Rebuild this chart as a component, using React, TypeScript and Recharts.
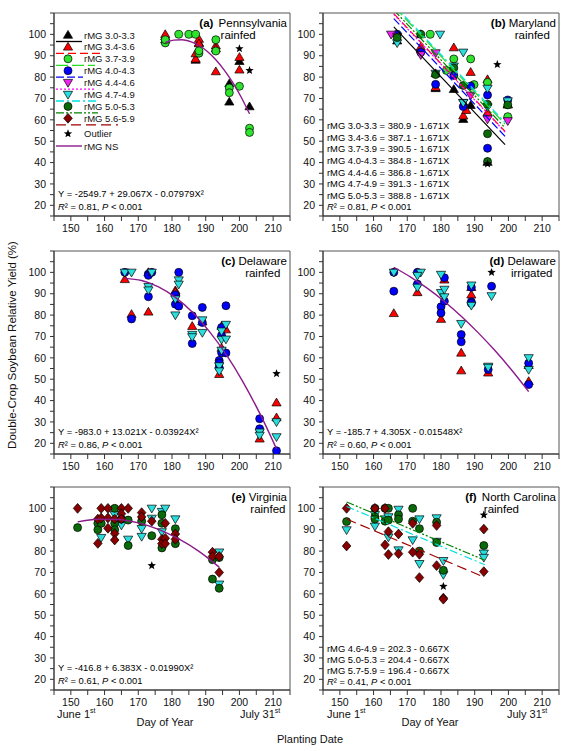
import React from 'react'
import { ScatterChart, Scatter, XAxis, YAxis, ReferenceArea } from 'recharts'

type Pt = [number, number]

// (a) Pennsylvania rainfed
const paMg30: Pt[] = [[178, 99], [178, 97.5], [187, 88], [188, 96], [197, 77], [197, 68.4], [200, 87.4], [203, 66.2]]
const paMg34: Pt[] = [[178, 100], [187, 88.5], [187, 91], [188, 97.8], [188, 95.7], [193, 94.7], [193, 93.3], [193, 82.6], [200, 89.3], [200, 83.4]]
const paMg37: Pt[] = [[178, 96], [178, 97.5], [182, 100], [185, 100], [187, 100], [188, 91.2], [188, 92.3], [193, 97.5], [193, 92.2], [197, 74.9], [197, 72.7], [200, 75.7], [203, 56.1], [203, 54.1]]
const paOutlier: Pt[] = [[200, 93.3], [203, 83.1]]
const paFit: Pt[] = [[178, 96.2], [180.5, 97.3], [183, 97.5], [185.5, 96.6], [188, 94.8], [190.5, 92.0], [193, 88.1], [195.5, 83.3], [198, 77.5], [200.5, 70.7], [203, 62.8]]

// (b) Maryland rainfed
const mdMg30: Pt[] = [[167, 97], [174, 100], [178.4, 74.7], [183.8, 74.3], [186.6, 60.3], [188.8, 66.8], [193.8, 40.2], [199.8, 67.3]]
const mdMg34: Pt[] = [[174, 94.1], [178.4, 81.7], [178.4, 75.2], [183.8, 93.8], [186.6, 61.9], [187.5, 64.5], [188.8, 82.3], [193.8, 78.9], [193.8, 63.4], [199.8, 67]]
const mdMg37: Pt[] = [[176.8, 100], [181.6, 83.1], [183.8, 88.5], [188.8, 88.5], [189.8, 76.5], [193.8, 77.5], [199.8, 61.5]]
const mdMg40: Pt[] = [[167, 100], [174, 91.6], [178.4, 76.6], [183.8, 80.8], [186.6, 66.2], [188.8, 75.8], [193.8, 71.6], [193.8, 46.7], [199.8, 69.3]]
const mdMg44: Pt[] = [[165.2, 100], [167, 99], [174, 90.4], [178.4, 91.3], [186.6, 68.1], [188.8, 71.5], [193.8, 60.3], [199.8, 59.5]]
const mdMg47: Pt[] = [[167, 96], [179.7, 100], [178.4, 81.7], [183.8, 85.1], [186.6, 91.6], [186.6, 68], [193.8, 74.7], [193.8, 66], [199.8, 68.8]]
const mdMg50: Pt[] = [[167, 98.5], [174, 100], [178.4, 81.2], [183.8, 84.3], [186.6, 76.1], [193.8, 67.3], [193.8, 53.5], [193.8, 40.5], [199.8, 67]]
const mdOutlier: Pt[] = [[196.7, 85.9], [193.8, 39.4]]
const mdFit30: Pt[] = [[166, 103.5], [199, 48.4]]
const mdFit34: Pt[] = [[166, 109.7], [199, 54.6]]
const mdFit37: Pt[] = [[166, 113.1], [199, 58.0]]
const mdFit40: Pt[] = [[166, 107.4], [199, 52.3]]
const mdFit44: Pt[] = [[166, 109.4], [199, 54.3]]
const mdFit47: Pt[] = [[166, 113.9], [199, 58.8]]
const mdFit50: Pt[] = [[166, 111.4], [199, 56.3]]

// (c) Delaware rainfed
const deMg34: Pt[] = [[166, 96.7], [168, 80.4], [173, 100], [173, 81.5], [181, 91.5], [181, 90.8], [186, 74.8], [189, 76.9], [194.7, 74.8], [194.7, 64.6], [196, 73.2], [194, 52.3], [206, 22.1], [211, 39], [211, 32]]
const deMg40: Pt[] = [[166, 100], [168, 78.2], [173, 99.2], [173, 98.6], [173, 88.6], [174, 100], [181, 89.5], [181, 85.1], [182, 100], [182, 84.2], [186, 79.7], [186, 66.7], [189, 83.6], [189, 76.5], [194.7, 74.2], [194.7, 70.5], [194.7, 62.4], [196, 84.4], [196, 62.3], [194, 58.8], [194, 57.6], [194, 55.5], [206, 31.5], [206, 26.8], [211, 16.5]]
const deMg47: Pt[] = [[166, 100], [168, 100], [173, 93.3], [173, 91.7], [174, 100], [181, 87.5], [181, 80], [182, 96.4], [182, 94.4], [186, 70.9], [186, 69.8], [189, 77.7], [189, 71.8], [194.7, 72.5], [194.7, 68.6], [194.7, 63.5], [196, 75.6], [196, 68.7], [194, 56.2], [194, 53.8], [206, 25.2], [206, 23.7], [211, 30], [211, 23]]
const deOutlier: Pt[] = [[211, 52.6]]
const deFit: Pt[] = [[166, 97.2], [171, 96.2], [176, 93.2], [181, 88.3], [186, 81.4], [191, 72.5], [196, 61.7], [201, 48.9], [206, 34.1], [211, 17.4]]

// (d) Delaware irrigated
const diMg34: Pt[] = [[166, 80.8], [173, 90.6], [180, 78.1], [181, 96.5], [186, 62.3], [186, 54], [189, 89.5], [189, 93], [194, 53], [206, 56.5], [206, 49]]
const diMg40: Pt[] = [[166, 100], [166, 91.2], [173, 100], [173, 94.5], [180, 83.9], [180, 81], [181, 97.5], [181, 86.5], [186, 70.9], [186, 67.5], [189, 93], [189, 86.2], [189, 85.5], [195, 93.5], [194, 54.5], [206, 57.5], [206, 47.5]]
const diMg47: Pt[] = [[166, 100], [174, 100], [173, 98.5], [173, 93], [180, 99], [180, 90.5], [181, 92], [181, 88.5], [186, 76], [189, 94], [189, 84.5], [195, 89], [194, 56], [194, 55.5], [206, 60], [206, 54.5]]
const diOutlier: Pt[] = [[195, 100]]
const diFit: Pt[] = [[166, 102.4], [171, 97.8], [176, 92.5], [181, 86.4], [186, 79.5], [191, 71.8], [196, 63.4], [201, 54.2], [206, 44.2]]

// (e) Virginia rainfed
const vaMg47: Pt[] = [[159, 86.3], [163, 97], [165, 92.1], [167, 85.5], [171, 90.5], [171, 86.8], [174, 100], [174, 95.3], [177, 98.5], [177, 89], [178, 100], [181, 95], [194, 79.5], [194, 64.5]]
const vaMg50: Pt[] = [[152, 91], [158, 93], [158, 90], [159, 93], [163, 100], [163, 93], [163, 90], [165, 95], [167, 94.5], [167, 82.6], [171, 94], [174, 87.2], [177, 97], [177, 93], [177, 81.5], [181, 90.5], [181, 83.5], [192, 76], [192, 66.9], [194, 77], [194, 62.6]]
const vaMg56: Pt[] = [[152, 100], [158, 95], [158, 83.6], [159, 95.5], [159, 100], [161, 100], [161, 95.5], [161, 90.7], [163, 95], [163, 88.2], [163, 85.2], [165, 100], [165, 97.5], [165, 95], [167, 100], [171, 98], [171, 96], [174, 94], [177, 85.5], [177, 83.5], [178, 93], [178, 86], [178, 83.5], [181, 88], [181, 85.5], [192, 79.5], [192, 77.5], [194, 77.5], [194, 70]]
const vaOutlier: Pt[] = [[174, 73.2]]
const vaFit: Pt[] = [[152, 93.7], [158, 94.9], [164, 94.8], [170, 93.2], [176, 90.2], [182, 85.7], [188, 79.9], [194, 72.5]]

// (f) North Carolina rainfed
const ncMg47: Pt[] = [[152, 89.9], [160.4, 97], [160.4, 91.6], [163.4, 95], [164.4, 96], [164.4, 86.5], [167.4, 99.5], [167.4, 80.5], [171.6, 85.2], [173.6, 95], [173.6, 74.1], [178.7, 95.5], [178.7, 84.5], [180.7, 75.5], [180.7, 69], [192.7, 79], [192.7, 77]]
const ncMg50: Pt[] = [[152, 93.8], [160.4, 100], [160.4, 96], [160.4, 95], [163.4, 100], [163.4, 94], [164.4, 100], [164.4, 94.5], [167.4, 97], [167.4, 95], [171.6, 100], [171.6, 94], [173.6, 90.5], [173.6, 80], [178.7, 93.5], [178.7, 84], [180.7, 71], [192.7, 82.6]]
const ncMg56: Pt[] = [[152, 100], [152, 82.4], [160.4, 100], [163.4, 100], [163.4, 82.9], [164.4, 89.1], [164.4, 78.4], [167.4, 88], [167.4, 78.8], [171.6, 93], [171.6, 79.5], [173.6, 78.5], [173.6, 67.6], [178.7, 92], [178.7, 73.2], [180.7, 58], [180.7, 57.5], [192.7, 90.3], [192.7, 70.4]]
const ncOutlier: Pt[] = [[180.7, 63.5], [192.7, 96.9]]
const ncFit47: Pt[] = [[152, 100.9], [193, 73.6]]
const ncFit50: Pt[] = [[152, 103.0], [193, 75.7]]
const ncFit56: Pt[] = [[152, 95.0], [193, 67.7]]

const X_TICKS = [145, 150, 155, 160, 165, 170, 175, 180, 185, 190, 195, 200, 205, 210, 215]
const Y_TICKS = [15, 20, 25, 30, 35, 40, 45, 50, 55, 60, 65, 70, 75, 80, 85, 90, 95, 100, 105, 110]

const FONT = '"Liberation Sans", Arial, sans-serif'

// marker + line styles per maturity group
const GROUPS: Record<string, { shape: string; fill: string; stroke: string; dash: string }> = {
  mg30: { shape: 'up', fill: '#000000', stroke: '#000000', dash: '' },
  mg34: { shape: 'up', fill: '#ff0000', stroke: '#ff0000', dash: '8 4' },
  mg37: { shape: 'circle', fill: '#2ee22e', stroke: '#22dd22', dash: '12 4' },
  mg40: { shape: 'circle', fill: '#0000ff', stroke: '#0000ff', dash: '8 3' },
  mg44: { shape: 'down', fill: '#ee22ee', stroke: '#ff00ff', dash: '2 2' },
  mg47: { shape: 'down', fill: '#2adede', stroke: '#00e0e0', dash: '8 3 2 3' },
  mg50: { shape: 'circle', fill: '#0a6a0a', stroke: '#008000', dash: '8 2 2 2 2 2' },
  mg56: { shape: 'diamond', fill: '#880000', stroke: '#a00000', dash: '10 5' },
  out: { shape: 'star', fill: '#000000', stroke: '#000000', dash: '' },
}
const FIT_COLOR = '#8b1a8b'

function drawMark(kind: string, cx: number, cy: number) {
  const g = GROUPS[kind]
  const sw = 0.7
  if (g.shape === 'circle') return <circle cx={cx} cy={cy} r={4} fill={g.fill} stroke="#000" strokeWidth={sw} />
  if (g.shape === 'up')
    return <polygon points={`${cx},${cy - 4.6} ${cx + 4.6},${cy + 3.2} ${cx - 4.6},${cy + 3.2}`} fill={g.fill} stroke="#000" strokeWidth={sw} />
  if (g.shape === 'down')
    return <polygon points={`${cx - 4.6},${cy - 3.2} ${cx + 4.6},${cy - 3.2} ${cx},${cy + 4.6}`} fill={g.fill} stroke="#000" strokeWidth={sw} />
  if (g.shape === 'diamond')
    return <polygon points={`${cx},${cy - 4.9} ${cx + 4.3},${cy} ${cx},${cy + 4.9} ${cx - 4.3},${cy}`} fill={g.fill} stroke="#000" strokeWidth={sw} />
  const p: string[] = []
  for (let i = 0; i < 10; i++) {
    const r = i % 2 === 0 ? 4.4 : 1.9
    const a = -Math.PI / 2 + (i * Math.PI) / 5
    p.push(`${cx + r * Math.cos(a)},${cy + r * Math.sin(a)}`)
  }
  return <polygon points={p.join(' ')} fill="#000" />
}

const toXY = (pts: Pt[]) => pts.map(([x, y]) => ({ x, y }))

type Fit = { pts: Pt[]; stroke: string; dash: string; curve?: boolean }
type PanelProps = {
  col: 'L' | 'R'
  row: number
  tag: string
  place: string
  sub: string
  subAlign: 'left' | 'center'
  series: { kind: string; pts: Pt[] }[]
  fits: Fit[]
  notes: React.ReactNode[]
  noteLh: number
}

const COLS = { L: { left: 0, yw: 54 }, R: { left: 293, yw: 30 } }
const ROW_TOPS = [13, 251, 487]
const PW = 236
const PH = 203

const R2 = (r: string) => (
  <>
    <i>R</i>² = {r}, <i>P</i> &lt; 0.001
  </>
)

function Panel({ col, row, tag, place, sub, subAlign, series, fits, notes, noteLh }: PanelProps) {
  const c = COLS[col]
  const top = ROW_TOPS[row]
  const plotLeft = c.left + c.yw
  const plotRight = plotLeft + PW
  const plotBottom = top + PH
  const tickStyle = { fontSize: 10.5, fill: '#111', fontFamily: FONT }
  return (
    <>
      <div style={{ position: 'absolute', left: c.left, top: top - 5 }}>
        <ScatterChart width={c.yw + PW + 6} height={5 + PH + 24} margin={{ top: 5, right: 6, bottom: 0, left: 0 }}>
          <XAxis
            type="number"
            dataKey="x"
            domain={[145, 215]}
            ticks={X_TICKS}
            allowDataOverflow
            interval={0}
            height={24}
            tickSize={5}
            tickMargin={4}
            tick={tickStyle}
            tickFormatter={(v: number) => (v % 10 === 0 ? String(v) : '')}
            axisLine={{ stroke: '#333' }}
            tickLine={{ stroke: '#333' }}
          />
          <YAxis
            type="number"
            dataKey="y"
            domain={[15, 110]}
            ticks={Y_TICKS}
            allowDataOverflow
            interval={0}
            width={c.yw}
            tickSize={4}
            tickMargin={4}
            tick={tickStyle}
            tickFormatter={(v: number) => (v % 10 === 0 && v >= 20 && v <= 100 ? String(v) : '')}
            axisLine={{ stroke: '#333' }}
            tickLine={{ stroke: '#333' }}
          />
          <ReferenceArea x1={145} x2={215} y1={15} y2={110} fill="none" stroke="#555" strokeWidth={1} />
          {series.map((s, i) => (
            <Scatter
              key={'s' + i}
              data={toXY(s.pts)}
              isAnimationActive={false}
              shape={(p: any) => drawMark(s.kind, p.cx, p.cy)}
            />
          ))}
          {fits.map((f, i) => (
            <Scatter
              key={'f' + i}
              data={toXY(f.pts)}
              isAnimationActive={false}
              fill={f.stroke}
              line={{ stroke: f.stroke, strokeWidth: f.curve ? 1.4 : 1.2, strokeDasharray: f.dash }}
              lineJointType={f.curve ? 'monotoneX' : 'linear'}
              shape={() => <g />}
            />
          ))}
        </ScatterChart>
      </div>
      <div
        style={{
          position: 'absolute',
          right: 575 - (plotRight - 3),
          top: top + 4,
          display: 'flex',
          alignItems: 'flex-start',
          fontSize: 11.5,
          lineHeight: '12px',
          fontFamily: FONT,
        }}
      >
        <b>{tag}&nbsp;</b>
        <div style={{ textAlign: subAlign, paddingLeft: subAlign === 'left' ? 2 : 0 }}>
          <div>{place}</div>
          <div style={{ paddingLeft: subAlign === 'left' ? 2 : 0 }}>{sub}</div>
        </div>
      </div>
      <div
        style={{
          position: 'absolute',
          left: plotLeft + 4,
          top: plotBottom - 3 - notes.length * noteLh,
          fontSize: 9.4,
          lineHeight: noteLh + 'px',
          fontFamily: FONT,
          whiteSpace: 'nowrap',
        }}
      >
        {notes.map((n, i) => (
          <div key={i}>{n}</div>
        ))}
      </div>
    </>
  )
}

const LEGEND_ROWS = [
  { kind: 'mg30', label: 'rMG 3.0-3.3', len: 26 },
  { kind: 'mg34', label: 'rMG 3.4-3.6', len: 47 },
  { kind: 'mg37', label: 'rMG 3.7-3.9', len: 39 },
  { kind: 'mg40', label: 'rMG 4.0-4.3', len: 27 },
  { kind: 'mg44', label: 'rMG 4.4-4.6', len: 40 },
  { kind: 'mg47', label: 'rMG 4.7-4.9', len: 42 },
  { kind: 'mg50', label: 'rMG 5.0-5.3', len: 42 },
  { kind: 'mg56', label: 'rMG 5.6-5.9', len: 62 },
]

function LegendBox() {
  const x0 = 56
  const y0 = 35
  const dy = 11.9
  return (
    <svg style={{ position: 'absolute', left: 0, top: 0 }} width={160} height={160}>
      {LEGEND_ROWS.map((r, i) => {
        const y = y0 + i * dy
        const g = GROUPS[r.kind]
        return (
          <g key={r.kind}>
            <line x1={x0} x2={x0 + r.len} y1={y + 6.5} y2={y + 6.5} stroke={g.stroke} strokeWidth={1.3} strokeDasharray={g.dash} />
            {drawMark(r.kind, 68, y)}
            <text x={84} y={y + 3.5} fontSize={9.5} fontFamily={FONT} fill="#111">
              {r.label}
            </text>
          </g>
        )
      })}
      {drawMark('out', 68, y0 + 8.3 * dy)}
      <text x={84} y={y0 + 8.3 * dy + 3.5} fontSize={9.5} fontFamily={FONT} fill="#111">
        Outlier
      </text>
      <line x1={x0} x2={82} y1={146} y2={146} stroke={FIT_COLOR} strokeWidth={1.4} />
      <text x={84} y={149.5} fontSize={9.5} fontFamily={FONT} fill="#111">
        rMG NS
      </text>
    </svg>
  )
}

const g = (k: string) => GROUPS[k]

export default function App() {
  const txt = { position: 'absolute' as const, fontFamily: FONT, fontSize: 11, color: '#111', whiteSpace: 'nowrap' as const }
  const sup = { fontSize: 7, verticalAlign: 'super' }
  return (
    <div style={{ position: 'absolute', left: 0, top: 0, width: 575, height: 751, background: '#fff', overflow: 'hidden' }}>
      <Panel
        col="L"
        row={0}
        tag="(a)"
        place="Pennsylvania"
        sub="rainfed"
        subAlign="left"
        series={[
          { kind: 'mg30', pts: paMg30 },
          { kind: 'mg34', pts: paMg34 },
          { kind: 'mg37', pts: paMg37 },
          { kind: 'out', pts: paOutlier },
        ]}
        fits={[{ pts: paFit, stroke: FIT_COLOR, dash: '', curve: true }]}
        notes={['Y = -2549.7 + 29.067X - 0.07979X²', R2('0.81')]}
        noteLh={12.5}
      />
      <LegendBox />
      <Panel
        col="R"
        row={0}
        tag="(b)"
        place="Maryland"
        sub="rainfed"
        subAlign="center"
        series={[
          { kind: 'mg30', pts: mdMg30 },
          { kind: 'mg34', pts: mdMg34 },
          { kind: 'mg37', pts: mdMg37 },
          { kind: 'mg40', pts: mdMg40 },
          { kind: 'mg44', pts: mdMg44 },
          { kind: 'mg47', pts: mdMg47 },
          { kind: 'mg50', pts: mdMg50 },
          { kind: 'out', pts: mdOutlier },
        ]}
        fits={[
          { pts: mdFit30, stroke: g('mg30').stroke, dash: g('mg30').dash },
          { pts: mdFit34, stroke: g('mg34').stroke, dash: g('mg34').dash },
          { pts: mdFit37, stroke: g('mg37').stroke, dash: g('mg37').dash },
          { pts: mdFit40, stroke: g('mg40').stroke, dash: g('mg40').dash },
          { pts: mdFit44, stroke: g('mg44').stroke, dash: g('mg44').dash },
          { pts: mdFit47, stroke: g('mg47').stroke, dash: g('mg47').dash },
          { pts: mdFit50, stroke: g('mg50').stroke, dash: g('mg50').dash },
        ]}
        notes={[
          'rMG 3.0-3.3 = 380.9 - 1.671X',
          'rMG 3.4-3.6 = 387.1 - 1.671X',
          'rMG 3.7-3.9 = 390.5 - 1.671X',
          'rMG 4.0-4.3 = 384.8 - 1.671X',
          'rMG 4.4-4.6 = 386.8 - 1.671X',
          'rMG 4.7-4.9 = 391.3 - 1.671X',
          'rMG 5.0-5.3 = 388.8 - 1.671X',
          R2('0.81'),
        ]}
        noteLh={11.6}
      />
      <Panel
        col="L"
        row={1}
        tag="(c)"
        place="Delaware"
        sub="rainfed"
        subAlign="center"
        series={[
          { kind: 'mg34', pts: deMg34 },
          { kind: 'mg40', pts: deMg40 },
          { kind: 'mg47', pts: deMg47 },
          { kind: 'out', pts: deOutlier },
        ]}
        fits={[{ pts: deFit, stroke: FIT_COLOR, dash: '', curve: true }]}
        notes={['Y = -983.0 + 13.021X - 0.03924X²', R2('0.86')]}
        noteLh={12.5}
      />
      <Panel
        col="R"
        row={1}
        tag="(d)"
        place="Delaware"
        sub="irrigated"
        subAlign="center"
        series={[
          { kind: 'mg34', pts: diMg34 },
          { kind: 'mg40', pts: diMg40 },
          { kind: 'mg47', pts: diMg47 },
          { kind: 'out', pts: diOutlier },
        ]}
        fits={[{ pts: diFit, stroke: FIT_COLOR, dash: '', curve: true }]}
        notes={['Y = -185.7 + 4.305X - 0.01548X²', R2('0.60')]}
        noteLh={12.5}
      />
      <Panel
        col="L"
        row={2}
        tag="(e)"
        place="Virginia"
        sub="rainfed"
        subAlign="center"
        series={[
          { kind: 'mg47', pts: vaMg47 },
          { kind: 'mg50', pts: vaMg50 },
          { kind: 'mg56', pts: vaMg56 },
          { kind: 'out', pts: vaOutlier },
        ]}
        fits={[{ pts: vaFit, stroke: FIT_COLOR, dash: '', curve: true }]}
        notes={['Y = -416.8 + 6.383X - 0.01990X²', R2('0.61')]}
        noteLh={12.5}
      />
      <Panel
        col="R"
        row={2}
        tag="(f)"
        place="North Carolina"
        sub="rainfed"
        subAlign="left"
        series={[
          { kind: 'mg47', pts: ncMg47 },
          { kind: 'mg50', pts: ncMg50 },
          { kind: 'mg56', pts: ncMg56 },
          { kind: 'out', pts: ncOutlier },
        ]}
        fits={[
          { pts: ncFit47, stroke: g('mg47').stroke, dash: g('mg47').dash },
          { pts: ncFit50, stroke: g('mg50').stroke, dash: g('mg50').dash },
          { pts: ncFit56, stroke: g('mg56').stroke, dash: g('mg56').dash },
        ]}
        notes={['rMG 4.6-4.9 = 202.3 - 0.667X', 'rMG 5.0-5.3 = 204.4 - 0.667X', 'rMG 5.7-5.9 = 196.4 - 0.667X', R2('0.41')]}
        noteLh={11}
      />

      <div
        style={{
          ...txt,
          left: 12,
          top: 345,
          transform: 'translate(-50%, -50%) rotate(-90deg)',
          fontSize: 11.5,
        }}
      >
        Double-Crop Soybean Relative Yield (%)
      </div>

      <div style={{ ...txt, left: 57, top: 707 }}>
        June 1<span style={sup}>st</span>
      </div>
      <div style={{ ...txt, left: 165, top: 716, transform: 'translateX(-50%)' }}>Day of Year</div>
      <div style={{ ...txt, left: 240, top: 707 }}>
        July 31<span style={sup}>st</span>
      </div>
      <div style={{ ...txt, left: 327, top: 707 }}>
        June 1<span style={sup}>st</span>
      </div>
      <div style={{ ...txt, left: 430, top: 716, transform: 'translateX(-50%)' }}>Day of Year</div>
      <div style={{ ...txt, left: 507, top: 707 }}>
        July 31<span style={sup}>st</span>
      </div>
      <div style={{ ...txt, left: 310, top: 733, transform: 'translateX(-50%)' }}>Planting Date</div>
    </div>
  )
}
